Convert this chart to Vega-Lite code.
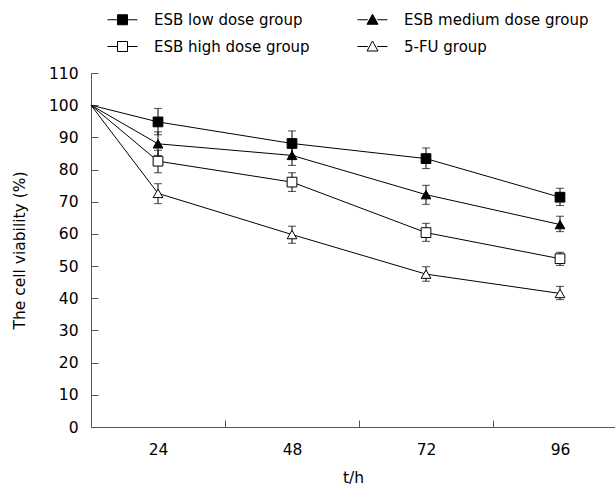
{
  "$schema": "https://vega.github.io/schema/vega-lite/v6.json",
  "autosize": "none",
  "padding": {"left": 91, "top": 73, "right": 0, "bottom": 59},
  "width": 524,
  "height": 354,
  "background": "white",
  "config": {
    "view": {"stroke": null},
    "font": "DejaVu Sans",
    "axis": {"labelFont": "DejaVu Sans", "titleFont": "DejaVu Sans", "labelColor": "black", "titleColor": "black", "labelFontSize": 15.5, "titleFontSize": 15.5, "titleFontWeight": "normal", "domainColor": "#555", "tickColor": "#555", "grid": false, "labelOverlap": false}
  },
  "data": {"values": [
    {"group": "ESB low dose group", "time": 0, "value": 100},
    {"group": "ESB low dose group", "time": 24, "value": 94.8, "lo": 90.8, "hi": 99.0},
    {"group": "ESB low dose group", "time": 48, "value": 88.1, "lo": 84.2, "hi": 92.0},
    {"group": "ESB low dose group", "time": 72, "value": 83.4, "lo": 80.3, "hi": 86.7},
    {"group": "ESB low dose group", "time": 96, "value": 71.4, "lo": 68.8, "hi": 74.2},
    {"group": "ESB medium dose group", "time": 0, "value": 100},
    {"group": "ESB medium dose group", "time": 24, "value": 88.0, "lo": 84.4, "hi": 91.7},
    {"group": "ESB medium dose group", "time": 48, "value": 84.4, "lo": 81.3, "hi": 87.6},
    {"group": "ESB medium dose group", "time": 72, "value": 72.2, "lo": 69.2, "hi": 75.1},
    {"group": "ESB medium dose group", "time": 96, "value": 62.9, "lo": 60.7, "hi": 65.5},
    {"group": "ESB high dose group", "time": 0, "value": 100},
    {"group": "ESB high dose group", "time": 24, "value": 82.6, "lo": 79.0, "hi": 86.0},
    {"group": "ESB high dose group", "time": 48, "value": 76.1, "lo": 73.2, "hi": 79.0},
    {"group": "ESB high dose group", "time": 72, "value": 60.4, "lo": 57.7, "hi": 63.3},
    {"group": "ESB high dose group", "time": 96, "value": 52.3, "lo": 50.2, "hi": 54.3},
    {"group": "5-FU group", "time": 0, "value": 100},
    {"group": "5-FU group", "time": 24, "value": 72.6, "lo": 69.4, "hi": 75.6},
    {"group": "5-FU group", "time": 48, "value": 59.8, "lo": 57.1, "hi": 62.4},
    {"group": "5-FU group", "time": 72, "value": 47.5, "lo": 45.3, "hi": 49.8},
    {"group": "5-FU group", "time": 96, "value": 41.5, "lo": 39.6, "hi": 43.7}
  ]},
  "encoding": {
    "x": {
      "field": "time", "type": "quantitative",
      "scale": {"domain": [0, 24, 96, 105.85], "range": [0, 67, 469, 524], "nice": false, "zero": false},
      "axis": {
        "title": "t/h",
        "values": [24, 36, 48, 60, 72, 84, 96],
        "labelExpr": "datum.value % 24 == 0 ? datum.value : ''",
        "tickSize": -7,
        "tickOpacity": {"condition": {"test": "datum.value % 24 == 0", "value": 0}, "value": 1},
        "labelPadding": 22,
        "titlePadding": 13,
        "labelFlush": false
      }
    },
    "y": {"field": "value", "type": "quantitative", "scale": {"domain": [0, 110], "nice": false},
      "axis": {"title": "The cell viability (%)", "values": [0,10,20,30,40,50,60,70,80,90,100,110], "tickSize": -7, "labelPadding": 20, "titlePadding": 21, "labelOverlap": false}}
  },
  "layer": [
    {
      "mark": {"type": "line", "color": "black", "strokeWidth": 1},
      "encoding": {"detail": {"field": "group"}}
    },
    {
      "transform": [{"filter": "datum.time > 0"}],
      "mark": {"type": "rule", "color": "black", "strokeWidth": 1},
      "encoding": {
        "y": {"field": "lo", "type": "quantitative"},
        "y2": {"field": "hi"}
      }
    },
    {
      "transform": [{"filter": "datum.time > 0"}],
      "mark": {"type": "tick", "orient": "horizontal", "color": "black", "size": 8, "thickness": 1},
      "encoding": {"y": {"field": "lo", "type": "quantitative"}}
    },
    {
      "transform": [{"filter": "datum.time > 0"}],
      "mark": {"type": "tick", "orient": "horizontal", "color": "black", "size": 8, "thickness": 1},
      "encoding": {"y": {"field": "hi", "type": "quantitative"}}
    },
    {
      "transform": [{"filter": "datum.time > 0 && datum.group === 'ESB low dose group'"}],
      "mark": {"type": "point", "shape": "square", "filled": true, "fill": "black", "stroke": "black", "strokeWidth": 1, "opacity": 1, "size": 95}
    },
    {
      "transform": [{"filter": "datum.time > 0 && datum.group === 'ESB high dose group'"}],
      "mark": {"type": "point", "shape": "square", "filled": true, "fill": "white", "stroke": "black", "strokeWidth": 1, "opacity": 1, "size": 95}
    },
    {
      "transform": [{"filter": "datum.time > 0 && datum.group === 'ESB medium dose group'"}],
      "mark": {"type": "point", "shape": "triangle-up", "filled": true, "fill": "black", "stroke": "black", "strokeWidth": 1, "opacity": 1, "size": 95}
    },
    {
      "transform": [{"filter": "datum.time > 0 && datum.group === '5-FU group'"}],
      "mark": {"type": "point", "shape": "triangle-up", "filled": true, "fill": "white", "stroke": "black", "strokeWidth": 1, "opacity": 1, "size": 95}
    },
    {
      "transform": [{"filter": "datum.time < 0"}],
      "mark": {"type": "point", "shape": "square", "filled": true, "stroke": "black", "strokeWidth": 1, "opacity": 1, "size": 95},
      "encoding": {
        "fill": {"field": "group", "type": "nominal",
          "scale": {"domain": ["ESB low dose group", "ESB medium dose group", "ESB high dose group", "5-FU group"], "range": ["black", "black", "white", "white"]},
          "legend": {
            "orient": "none", "legendX": 24, "legendY": -61, "columns": 2, "direction": "horizontal",
            "title": null, "padding": 0,
            "labelFont": "DejaVu Sans", "labelFontSize": 15, "labelColor": "black",
            "labelOffset": 24, "labelLimit": 400,
            "symbolSize": 100, "symbolStrokeColor": "black", "symbolStrokeWidth": 1, "symbolOpacity": 1,
            "rowPadding": 11, "columnPadding": 45,
            "encode": {"symbols": {"update": {
              "shape": {"signal": "datum.value === 'ESB low dose group' || datum.value === 'ESB high dose group' ? 'M-3,0H-1M1,0H3M-1,-1H1V1H-1Z' : 'M-3,0H-0.95M0.95,0H3M0,-1.1L1.1,0.9H-1.1Z'"},
              "stroke": {"value": "black"},
              "strokeWidth": {"value": 1},
              "opacity": {"value": 1}
            }}}
          }
        }
      }
    }
  ]
}
